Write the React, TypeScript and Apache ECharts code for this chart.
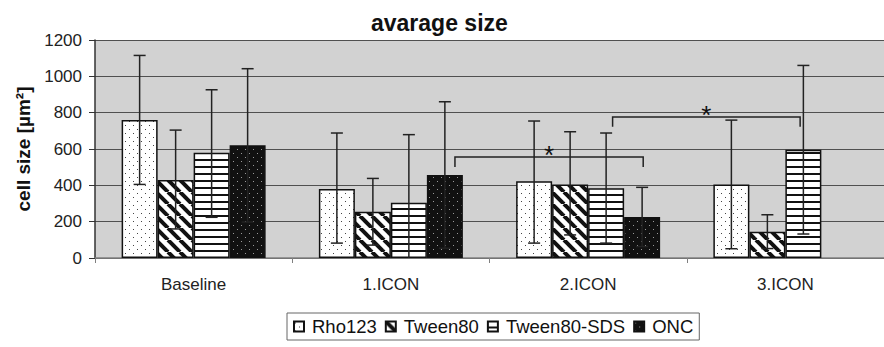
import React, { useEffect, useRef } from 'react';
import * as echarts from 'echarts';

const categories = ['Baseline', '1.ICON', '2.ICON', '3.ICON'];
const seriesNames = ['Rho123', 'Tween80', 'Tween80-SDS', 'ONC'];

const rho123 = [760, 380, 422, 405];
const tween80 = [430, 255, 405, 145];
const tween80SDS = [580, 304, 384, 596];
const onc: (number | null)[] = [620, 457, 226, null];

const rho123Upper = [1115, 688, 754, 759];
const rho123Lower = [405, 82, 82, 51];
const tween80Upper = [704, 438, 695, 238];
const tween80Lower = [160, 71, 127, 52];
const tween80SDSUpper = [926, 679, 688, 1060];
const tween80SDSLower = [224, 0, 82, 132];
const oncUpper: (number | null)[] = [1042, 860, 389, null];
const oncLower: (number | null)[] = [198, 54, 63, null];

// significance brackets: [category, bar slot] endpoints, bracket level and drop level
const sigFromCat = [1, 2];
const sigFromSlot = [3.28, 2.18];
const sigToCat = [2, 3];
const sigToSlot = [3.03, 1.91];
const sigLevel = [556, 776];
const sigDrop = [501, 722];
const sigLabel = ['*', '*'];

const yMin = 0;
const yMax = 1200;
const yInterval = 200;

const FONT = '"Liberation Sans", Arial, Helvetica, sans-serif';
const BAR_FRAC = 0.1825;

function makeTile(kind: string) {
  const c = document.createElement('canvas');
  let w = 8, h = 8;
  if (kind === 'diag') { w = 12; h = 12; }
  if (kind === 'horiz') { w = 8; h = 7; }
  c.width = w; c.height = h;
  const g = c.getContext('2d')!;
  if (kind === 'dots') {
    g.fillStyle = '#ffffff'; g.fillRect(0, 0, w, h);
    g.fillStyle = '#444'; g.fillRect(1, 1, 1, 1); g.fillRect(5, 5, 1, 1);
  } else if (kind === 'darkdots') {
    g.fillStyle = '#111111'; g.fillRect(0, 0, w, h);
    g.fillStyle = '#9a9a9a'; g.fillRect(1, 1, 1, 1); g.fillRect(5, 5, 1, 1);
  } else if (kind === 'diag') {
    g.fillStyle = '#ffffff'; g.fillRect(0, 0, w, h);
    g.strokeStyle = '#111'; g.lineWidth = 4;
    for (const k of [-12, 0, 12]) {
      g.beginPath(); g.moveTo(k, 0); g.lineTo(k + 12, 12); g.stroke();
    }
  } else {
    g.fillStyle = '#ffffff'; g.fillRect(0, 0, w, h);
    g.fillStyle = '#111'; g.fillRect(0, 5, w, 2);
  }
  return { image: c.toDataURL(), imageWidth: w, imageHeight: h, repeat: 'repeat' } as any;
}

export default function App() {
  const ref = useRef<HTMLDivElement>(null);
  useEffect(() => {
    if (!ref.current) return;
    const chart = echarts.init(ref.current, null, { renderer: 'svg' });
    const values = [rho123, tween80, tween80SDS, onc];
    const uppers = [rho123Upper, tween80Upper, tween80SDSUpper, oncUpper];
    const lowers = [rho123Lower, tween80Lower, tween80SDSLower, oncLower];
    const patterns = [makeTile('dots'), makeTile('diag'), makeTile('horiz'), makeTile('darkdots')];

    const errData: number[][] = [];
    values.forEach((arr, s) => {
      arr.forEach((v, i) => {
        if (v == null) return;
        errData.push([i, lowers[s][i] as number, uppers[s][i] as number, s]);
      });
    });
    const sigData = sigFromCat.map((c, i) => [c, sigFromSlot[i], sigToCat[i], sigToSlot[i], sigLevel[i], sigDrop[i]]);

    const barSeries = values.map((arr, s) => ({
      type: 'bar',
      name: seriesNames[s],
      data: arr,
      barGap: '0%',
      barCategoryGap: '27%',
      z: 2,
      itemStyle: { color: patterns[s], borderColor: '#111', borderWidth: 1.5 },
    }));

    chart.setOption({
      animation: false,
      backgroundColor: '#ffffff',
      title: {
        text: 'avarage size',
        left: 366,
        top: 6,
        textStyle: { fontFamily: FONT, fontSize: 23, fontWeight: 'bold', color: '#111' },
      },
      legend: {
        data: seriesNames,
        left: 287,
        top: 313,
        padding: [4, 6, 4, 6],
        itemGap: 8,
        itemWidth: 10,
        itemHeight: 10,
        icon: 'rect',
        borderColor: '#666',
        borderWidth: 1,
        textStyle: { fontFamily: FONT, fontSize: 18.5, color: '#111', padding: [0, 0, 0, 3] },
      },
      grid: { left: 95, top: 40, width: 800, height: 218, backgroundColor: '#d2d2d2', show: true, borderWidth: 0 },
      xAxis: {
        type: 'category',
        data: categories,
        axisLine: { lineStyle: { color: '#808080', width: 1.5 } },
        axisTick: { show: true, length: 5, interval: 0, alignWithLabel: false, lineStyle: { color: '#808080' } },
        axisLabel: { fontFamily: FONT, fontSize: 17, color: '#222', margin: 18 },
      },
      yAxis: {
        type: 'value',
        min: yMin,
        max: yMax,
        interval: yInterval,
        name: 'cell size [µm²]',
        nameLocation: 'middle',
        nameGap: 62,
        nameTextStyle: { fontFamily: FONT, fontSize: 19, fontWeight: 'bold', color: '#111' },
        axisLine: { show: true, lineStyle: { color: '#333', width: 1.5 } },
        axisTick: { show: true, length: 6, lineStyle: { color: '#333' } },
        axisLabel: { fontFamily: FONT, fontSize: 17, color: '#222', margin: 13, formatter: (v: number) => String(v) },
        splitLine: { show: true, lineStyle: { color: '#505050', width: 1.2 } },
      },
      series: [
        ...barSeries,
        {
          type: 'custom',
          name: 'errors',
          z: 3,
          encode: { x: 0, y: [1, 2] },
          data: errData,
          renderItem: (params: any, api: any) => {
            const cat = api.value(0), lo = api.value(1), hi = api.value(2), slot = api.value(3);
            const band = api.size([1, 0])[0];
            const top = api.coord([cat, hi]);
            const bot = api.coord([cat, lo]);
            const x = top[0] + (slot - 1.5) * band * BAR_FRAC;
            const st = { stroke: '#222', lineWidth: 1.5 };
            const children: any[] = [
              { type: 'line', shape: { x1: x, y1: top[1], x2: x, y2: bot[1] }, style: st },
              { type: 'line', shape: { x1: x - 6, y1: top[1], x2: x + 6, y2: top[1] }, style: st },
            ];
            if (lo > 0) children.push({ type: 'line', shape: { x1: x - 6, y1: bot[1], x2: x + 6, y2: bot[1] }, style: st });
            return { type: 'group', children };
          },
        },
        {
          type: 'custom',
          name: 'significance',
          z: 4,
          encode: { x: 0, y: 4 },
          data: sigData,
          renderItem: (params: any, api: any) => {
            const band = api.size([1, 0])[0];
            const a = api.coord([api.value(0), api.value(4)]);
            const b = api.coord([api.value(2), api.value(4)]);
            const d = api.coord([api.value(0), api.value(5)]);
            const x1 = a[0] + (api.value(1) - 1.5) * band * BAR_FRAC;
            const x2 = b[0] + (api.value(3) - 1.5) * band * BAR_FRAC;
            const yl = a[1], yd = d[1];
            return {
              type: 'group',
              children: [
                { type: 'polyline', shape: { points: [[x1, yd], [x1, yl], [x2, yl], [x2, yd]] }, style: { stroke: '#222', lineWidth: 1.5, fill: 'none' } },
                { type: 'text', x: (x1 + x2) / 2, y: yl - 2, style: { text: sigLabel[params.dataIndex], fontSize: 26, fontFamily: FONT, fill: '#111', align: 'center', verticalAlign: 'middle' } },
              ],
            };
          },
        },
      ],
    } as any);
    return () => chart.dispose();
  }, []);
  return <div ref={ref} style={{ position: 'fixed', left: 0, top: 0, width: 884, height: 347 }} />;
}
